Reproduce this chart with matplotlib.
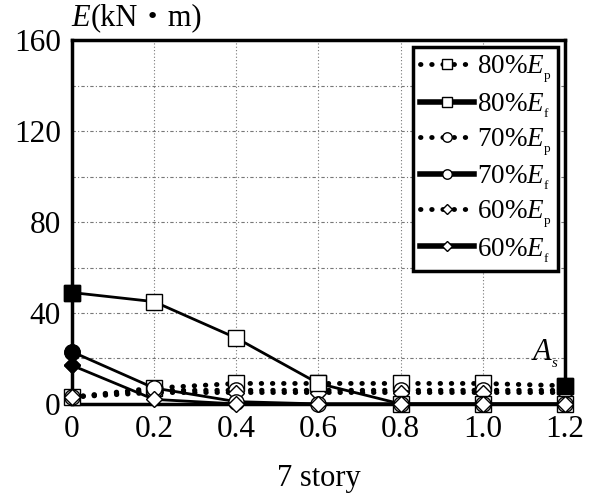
import numpy as np
import matplotlib
matplotlib.use('Agg')
import matplotlib.pyplot as plt

plt.rcParams['font.family'] = ['Liberation Serif', 'DejaVu Serif']
plt.rcParams['mathtext.fontset'] = 'custom'
plt.rcParams['mathtext.rm'] = 'Liberation Serif'
plt.rcParams['mathtext.it'] = 'Liberation Serif:italic'
plt.rcParams['mathtext.bf'] = 'Liberation Serif:bold'

# ratio A_s
x = [0, 0.2, 0.4, 0.6, 0.8, 1.0, 1.2]
xticklabels = ['0', '0.2', '0.4', '0.6', '0.8', '1.0', '1.2']

# energies (kN*m)
ep80 = [3, 7, 9, 9, 9, 9, 8]
ef80 = [49, 45, 29, 9, 0, 0, 0]
ep70 = [3, 6, 6, 6, 6, 6, 6]
ef70 = [23, 7, 1, 0, 0, 0, 0]
ep60 = [3, 5, 5, 5, 5, 5, 5]
ef60 = [17, 2, 0, 0, 0, 0, 0]

series = [
    (ep80, 's', 'p', r'80%$E_{_{\mathrm{p}}}$'),
    (ef80, 's', 'f', r'80%$E_{_{\mathrm{f}}}$'),
    (ep70, 'o', 'p', r'70%$E_{_{\mathrm{p}}}$'),
    (ef70, 'o', 'f', r'70%$E_{_{\mathrm{f}}}$'),
    (ep60, 'D', 'p', r'60%$E_{_{\mathrm{p}}}$'),
    (ef60, 'D', 'f', r'60%$E_{_{\mathrm{f}}}$'),
]
msize = {'s': 11, 'o': 11, 'D': 8.5}

fig = plt.figure(figsize=(5.93, 5.03), dpi=100)
ax = fig.add_axes([0.121, 0.197, 0.832, 0.723])

for vals, mk, kind, lab in series:
    ms = msize[mk]
    if kind == 'p':
        ax.plot(x, vals, linestyle=(0, (0.1, 2.2)), dash_capstyle='round',
                lw=3.5, color='black', marker=mk, ms=ms, mfc='white',
                mec='black', mew=1.0, label=lab, zorder=3, clip_on=False)
    else:
        ax.plot(x, vals, linestyle='-', lw=2.0, color='black', marker=mk,
                ms=ms, mfc='white', mec='black', mew=1.0, label=lab,
                zorder=4, clip_on=False)
        # filled first point
        ax.plot(x[:1], vals[:1], linestyle='none', marker=mk, ms=ms,
                mfc='black', mec='black', zorder=5, clip_on=False)

# filled last point of 80% Ep
ax.plot(x[-1:], ep80[-1:], linestyle='none', marker='s', ms=11,
        mfc='black', mec='black', zorder=5, clip_on=False)

ax.set_xlim(0, 1.2)
ax.set_ylim(0, 160)
ax.set_xticks(x)
ax.set_xticklabels(xticklabels)
ax.set_yticks([0, 40, 80, 120, 160])
ax.set_yticks(np.arange(0, 161, 20), minor=True)
ax.tick_params(which='both', length=0, labelsize=22.5, pad=8)
ax.grid(True, axis='x', which='major', color='#777777', lw=0.8,
        linestyle=(0, (1, 2)))
ax.grid(True, axis='y', which='both', color='#777777', lw=0.8,
        linestyle=(0, (3, 2, 1, 2)))
for sp in ax.spines.values():
    sp.set_linewidth(2.5)
ax.set_axisbelow(True)

leg = ax.legend(loc='upper right', fontsize=19.5, frameon=True, fancybox=False,
                edgecolor='black', framealpha=1, handlelength=2.0,
                handletextpad=0.1, borderaxespad=0.25, labelspacing=0.22,
                borderpad=0.25, markerscale=0.62)
leg.get_frame().set_linewidth(2.5)
for h in leg.get_lines():
    if h.get_linestyle() == '-':
        h.set_linewidth(4)

ax.text(1.185, 22, r'$A_{_s}$', fontsize=22, ha='right', va='center')
fig.text(0.121, 0.935, 'E', fontsize=22, ha='left', va='bottom',
         style='italic')
fig.text(0.152, 0.935, '(kN・m)', fontsize=22, ha='left', va='bottom',
         family=['Liberation Serif', 'Noto Sans CJK JP'])
fig.text(0.537, 0.02, '7 story', fontsize=22, ha='center', va='bottom')

fig.savefig('out.png', dpi=100)
